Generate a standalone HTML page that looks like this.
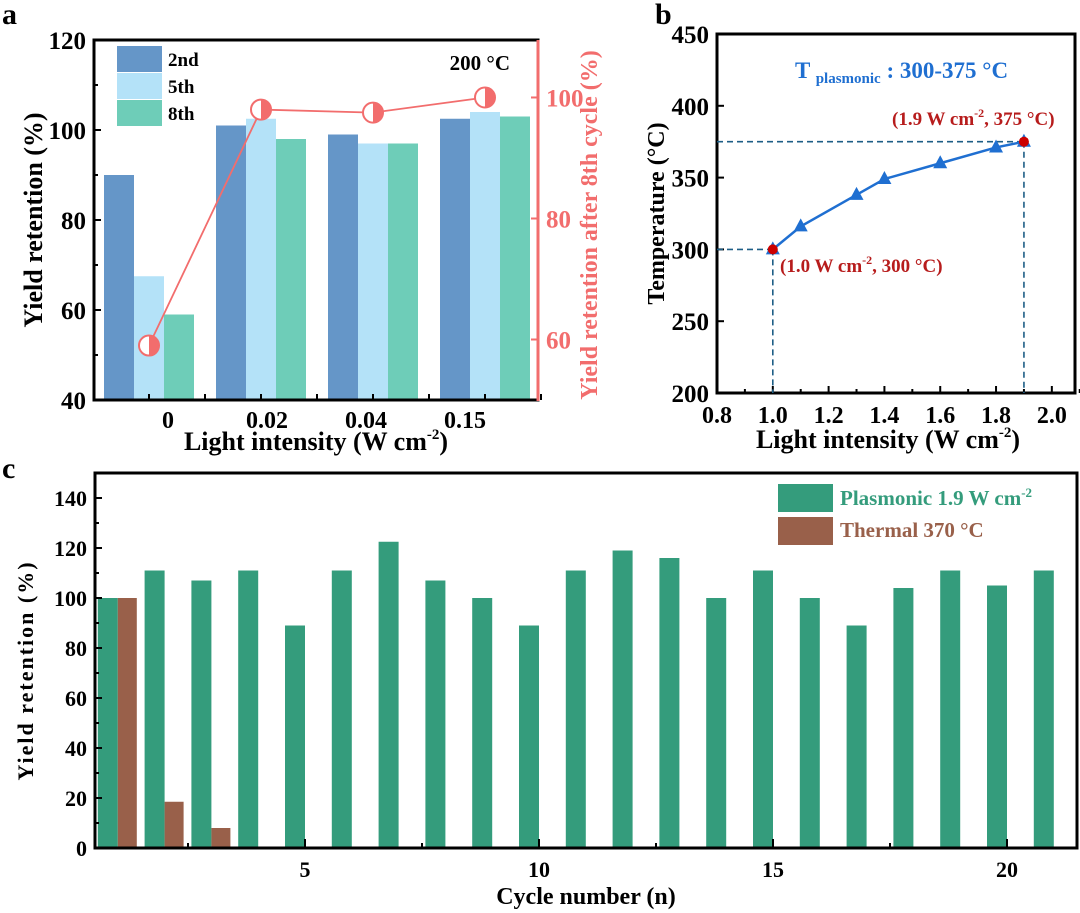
<!DOCTYPE html>
<html><head><meta charset="utf-8"><style>
html,body{margin:0;padding:0;background:#fff;}
svg{display:block;font-family:"Liberation Serif",serif;font-weight:bold;}
</style></head><body>
<svg id="fig" width="1080" height="913" viewBox="0 0 1080 913" xmlns="http://www.w3.org/2000/svg">
<text x="2" y="24" font-size="30">a</text>
<text x="655" y="24" font-size="30">b</text>
<text x="2" y="478" font-size="30">c</text>
<g id="pa"></g>
<g id="pb"></g>
<g id="pc"></g>
</svg>
<script>
// ---- Panel a data
const aCats = ["0","0.02","0.04","0.15"];
const a2nd = [90, 101, 99, 102.5];
const a5th = [67.5, 102.5, 97, 104];
const a8th = [59, 98, 97, 103];
const aRight = [59, 98, 97.5, 100];
const aYTicks = [40, 60, 80, 100, 120];
const aRTicks = [60, 80, 100];
// ---- Panel b data
const bX = [1.0, 1.1, 1.3, 1.4, 1.6, 1.8, 1.9];
const bY = [300, 316, 338, 349, 360, 371, 375];
const bXTicks = [0.8, 1.0, 1.2, 1.4, 1.6, 1.8, 2.0];
const bYTicks = [200, 250, 300, 350, 400, 450];
// ---- Panel c data
const cPlas = [100,111,107,111,89,111,122.5,107,100,89,111,119,116,100,111,100,89,104,111,105,111];
const cTherm = [100,18.5,8];
const cXTicks = [5,10,15,20];
const cYTicks = [0,20,40,60,80,100,120,140];

const NS="http://www.w3.org/2000/svg";
function mk(parent,tag,attrs,text){const e=document.createElementNS(NS,tag);for(const k in attrs)e.setAttribute(k,attrs[k]);if(text!==undefined)e.textContent=text;parent.appendChild(e);return e;}
const SUPTITLE='Light intensity (W cm<tspan dy="-11" font-size="15">-2</tspan><tspan dy="11">)</tspan>';

// ===== Panel A =====
(function(){
const g=document.getElementById('pa');
const L=94,R=538,T=40,B=400;
const y=v=>B-(v-40)*(B-T)/80;
const yr=v=>B-(v-50)*(B-T)/59.5;
const gc=i=>149+i*112;
const cols=["#6596c8","#b4e2f8","#6ecdb8"];
const series=[a2nd,a5th,a8th];
series.forEach((s,si)=>s.forEach((v,i)=>{
 const r=mk(g,'rect',{x:gc(i)-45+si*30,y:y(v),width:30,height:B-y(v),fill:cols[si]});
 
 
}));
mk(g,'rect',{x:L,y:T,width:R-L,height:B-T,fill:'none',stroke:'#000','stroke-width':3});
mk(g,'line',{x1:R,y1:T,x2:R,y2:B+1,stroke:'#f26d6d','stroke-width':3});
aYTicks.forEach(v=>{mk(g,'line',{x1:L,y1:y(v),x2:L+7,y2:y(v),stroke:'#000','stroke-width':2});
 const t=mk(g,'text',{x:L-8,y:y(v)+9,'font-size':25,'text-anchor':'end'},v);
 });
[50,70,90,110].forEach(v=>mk(g,'line',{x1:L,y1:y(v),x2:L+4,y2:y(v),stroke:'#000','stroke-width':2}));
aRTicks.forEach(v=>{mk(g,'line',{x1:R,y1:yr(v),x2:R-7,y2:yr(v),stroke:'#f26d6d','stroke-width':2});
 const t=mk(g,'text',{x:R+8,y:yr(v)+9,'font-size':25,fill:'#f26d6d'},v);
 });
aCats.forEach((c,i)=>{mk(g,'line',{x1:gc(i),y1:B,x2:gc(i),y2:B-6,stroke:'#000','stroke-width':2});
 mk(g,'line',{x1:gc(i)+56,y1:B,x2:gc(i)+56,y2:B-6,stroke:'#000','stroke-width':2});
 const t=mk(g,'text',{x:168+i*99,y:B+28,'font-size':24,'text-anchor':'middle'},c);
 });
// line
const pts=aRight.map((v,i)=>[gc(i),yr(v)]);
const pl=mk(g,'polyline',{points:pts.map(p=>p.join(',')).join(' '),fill:'none',stroke:'#f26d6d','stroke-width':1.8});

pts.forEach((p,i)=>{const c=mk(g,'g',{});
 
 mk(c,'circle',{cx:p[0],cy:p[1],r:10,fill:'#fff',stroke:'#f26d6d','stroke-width':2});
 mk(c,'path',{d:`M${p[0]},${p[1]-10} A10,10 0 0 1 ${p[0]},${p[1]+10} Z`,fill:'#f26d6d'});});
// legend
const lab=["2nd","5th","8th"];
lab.forEach((l,i)=>{const r=mk(g,'rect',{x:117,y:46+i*27,width:45,height:26,fill:cols[i]});
 
 const t=mk(g,'text',{x:168,y:66+i*27,'font-size':19},l);
 });
mk(g,'text',{x:510,y:70,'font-size':21,'text-anchor':'end'},'200 °C');
mk(g,'text',{x:0,y:0,'font-size':26,'text-anchor':'middle',transform:`translate(42,${(T+B)/2}) rotate(-90)`},'Yield retention (%)');
mk(g,'text',{x:0,y:0,'font-size':24,'text-anchor':'middle',fill:'#f26d6d',transform:`translate(597,${(T+B)/2+5}) rotate(-90)`},'Yield retention after 8th cycle (%)');
const xt=mk(g,'text',{x:316,y:450,'font-size':26,'text-anchor':'middle'});
xt.innerHTML=SUPTITLE;
})();

// ===== Panel B =====
(function(){
const g=document.getElementById('pb');
const L=717,R=1075,T=34,B=393;
const x=v=>L+(v-0.8)*(R-L)/1.283;
const y=v=>B-(v-200)*(B-T)/250;
mk(g,'rect',{x:L,y:T,width:R-L,height:B-T,fill:'none',stroke:'#000','stroke-width':3});
bYTicks.forEach(v=>{mk(g,'line',{x1:L,y1:y(v),x2:L+7,y2:y(v),stroke:'#000','stroke-width':2});
 mk(g,'text',{x:L-8,y:y(v)+9,'font-size':25,'text-anchor':'end'},v);});
bXTicks.forEach(v=>{mk(g,'line',{x1:x(v),y1:B,x2:x(v),y2:B-7,stroke:'#000','stroke-width':2});
 mk(g,'line',{x1:x(v+0.1),y1:B,x2:x(v+0.1),y2:B-4,stroke:'#000','stroke-width':2});
 mk(g,'text',{x:x(v),y:B+30,'font-size':24,'text-anchor':'middle'},v.toFixed(1));});
const d='#1d5e86';
const x0=bX[0],y0=bY[0],x1=bX[bX.length-1],y1=bY[bY.length-1];
[[L,y(y0),x(x0),y(y0)],[x(x0),y(y0),x(x0),B],[L,y(y1),x(x1),y(y1)],[x(x1),y(y1),x(x1),B]].forEach(s=>
 mk(g,'line',{x1:s[0],y1:s[1],x2:s[2],y2:s[3],stroke:d,'stroke-width':1.6,'stroke-dasharray':'6,4'}));
const pts=bX.map((v,i)=>[x(v),y(bY[i])]);
const pl=mk(g,'polyline',{points:pts.map(p=>p.join(',')).join(' '),fill:'none',stroke:'#1f6fd1','stroke-width':2.5});

pts.forEach((p,i)=>{const m=mk(g,'path',{d:`M${p[0]},${p[1]-8} L${p[0]+7},${p[1]+5} L${p[0]-7},${p[1]+5} Z`,fill:'#1f6fd1'});
 });
[pts[0],pts[pts.length-1]].forEach(p=>mk(g,'circle',{cx:p[0],cy:p[1],r:5,fill:'#c00'}));
const t1=mk(g,'text',{x:780,y:272,'font-size':19,fill:'#b71c1c'});
t1.innerHTML='(1.0 W cm<tspan dy="-8" font-size="12">-2</tspan><tspan dy="8">, 300 °C)</tspan>';

const t2=mk(g,'text',{x:892,y:125,'font-size':19,fill:'#b71c1c'});
t2.innerHTML='(1.9 W cm<tspan dy="-8" font-size="12">-2</tspan><tspan dy="8">, 375 °C)</tspan>';

const t3=mk(g,'text',{x:795,y:78,'font-size':23,fill:'#1f6fd1'});
t3.innerHTML='T <tspan font-size="15" dy="5">plasmonic</tspan><tspan dy="-5"> : 300-375 °C</tspan>';

mk(g,'text',{x:0,y:0,'font-size':24,'text-anchor':'middle',transform:`translate(664,${(T+B)/2}) rotate(-90)`},'Temperature (°C)');
const xt=mk(g,'text',{x:888,y:448,'font-size':26,'text-anchor':'middle'});
xt.innerHTML=SUPTITLE;
})();

// ===== Panel C =====
(function(){
const g=document.getElementById('pc');
const L=95,R=1077,T=473,B=848;
const x=n=>305+(n-5)*46.8;
const y=v=>B-v*(B-T)/150;
cPlas.forEach((v,i)=>{const r=mk(g,'rect',{x:x(i+1)-20,y:y(v),width:20,height:B-y(v),fill:'#349c7c'});
 });
cTherm.forEach((v,i)=>{const r=mk(g,'rect',{x:x(i+1),y:y(v),width:19,height:B-y(v),fill:'#99604a'});
 });
mk(g,'rect',{x:L,y:T,width:R-L,height:B-T,fill:'none',stroke:'#000','stroke-width':3});
cYTicks.forEach(v=>{mk(g,'line',{x1:L,y1:y(v),x2:L+7,y2:y(v),stroke:'#000','stroke-width':2});
 mk(g,'line',{x1:L,y1:y(v+10),x2:L+4,y2:y(v+10),stroke:'#000','stroke-width':2});
 mk(g,'text',{x:L-8,y:y(v)+8,'font-size':22,'text-anchor':'end'},v);});
cXTicks.forEach(v=>{mk(g,'line',{x1:x(v),y1:B,x2:x(v),y2:B-9,stroke:'#000','stroke-width':2});
 mk(g,'line',{x1:x(v-2.5),y1:B,x2:x(v-2.5),y2:B-5,stroke:'#000','stroke-width':2});
 mk(g,'text',{x:x(v),y:B+29,'font-size':22,'text-anchor':'middle'},v);});
mk(g,'rect',{x:778,y:484,width:55,height:28,fill:'#349c7c'});
mk(g,'rect',{x:778,y:517,width:55,height:28,fill:'#99604a'});
const l1=mk(g,'text',{x:840,y:505,'font-size':21,fill:'#349c7c'});
l1.innerHTML='Plasmonic 1.9 W cm<tspan dy="-8" font-size="13">-2</tspan>';

mk(g,'text',{x:840,y:537,'font-size':21,fill:'#99604a'},'Thermal 370 °C');
mk(g,'text',{x:0,y:0,'font-size':22,'text-anchor':'middle','letter-spacing':'2',transform:`translate(33,${(T+B)/2+10}) rotate(-90)`},'Yield retention (%)');
mk(g,'text',{x:586,y:904,'font-size':24,'text-anchor':'middle'},'Cycle number (n)');
})();
</script>
</body></html>
